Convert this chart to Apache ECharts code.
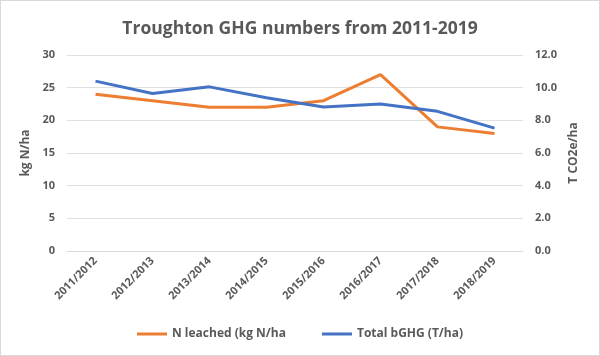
<!DOCTYPE html>
<html><head><meta charset="utf-8">
<script src="https://cdn.jsdelivr.net/npm/echarts@6/dist/echarts.min.js"></script>
<style>html,body{margin:0;padding:0;background:#fff}#c{width:598px;height:354px;border:1px solid #d9d9d9}</style>
</head><body><div id="c"></div>
<script>
const categories = ['2011/2012','2012/2013','2013/2014','2014/2015','2015/2016','2016/2017','2017/2018','2018/2019'];
const nLeached = [24, 23, 22, 22, 23, 27, 19, 18];
const totalGHG = [10.4, 9.64, 10.05, 9.38, 8.82, 9.0, 8.55, 7.52];
const font = '"Open Sans", "Liberation Sans", sans-serif';
const grey = '#595959';
const chart = echarts.init(document.getElementById('c'));
chart.setOption({
  animation: false,
  title: { text: 'Troughton GHG numbers from 2011-2019', left: 'center', top: 14,
    textStyle: { fontFamily: font, fontSize: 17.5, fontWeight: 'bold', color: grey } },
  grid: { left: 66, right: 76, top: 54, bottom: 104 },
  legend: { bottom: 10, itemWidth: 30, itemHeight: 3, itemGap: 36, icon: 'rect',
    textStyle: { fontFamily: font, fontSize: 12, fontWeight: 'bold', color: grey } },
  xAxis: { type: 'category', data: categories, boundaryGap: true,
    axisLine: { lineStyle: { color: '#d9d9d9' } }, axisTick: { show: false },
    axisLabel: { rotate: 45, interval: 0, fontFamily: font, fontSize: 11, fontWeight: 'bold', color: grey, margin: 8 } },
  yAxis: [
    { type: 'value', min: 0, max: 30, interval: 5, name: 'kg N/ha', nameLocation: 'middle', nameGap: 30,
      nameTextStyle: { fontFamily: font, fontSize: 12, fontWeight: 'bold', color: grey },
      axisLabel: { fontFamily: font, fontSize: 11, fontWeight: 'bold', color: grey, margin: 12 },
      splitLine: { lineStyle: { color: '#e0e0e0', width: 1 } } },
    { type: 'value', min: 0, max: 12, interval: 2, name: 'T CO2e/ha', nameLocation: 'middle', nameGap: 44,
      nameRotate: 90,
      nameTextStyle: { fontFamily: font, fontSize: 12, fontWeight: 'bold', color: grey },
      axisLabel: { fontFamily: font, fontSize: 11, fontWeight: 'bold', color: grey, margin: 12,
        formatter: v => v.toFixed(1) },
      splitLine: { show: false } }
  ],
  series: [
    { name: 'N leached (kg N/ha', type: 'line', yAxisIndex: 0, data: nLeached, symbol: 'none',
      lineStyle: { color: '#ed7d31', width: 3 }, itemStyle: { color: '#ed7d31' } },
    { name: 'Total bGHG (T/ha)', type: 'line', yAxisIndex: 1, data: totalGHG, symbol: 'none',
      lineStyle: { color: '#4472c4', width: 3 }, itemStyle: { color: '#4472c4' } }
  ]
});
</script></body></html>
